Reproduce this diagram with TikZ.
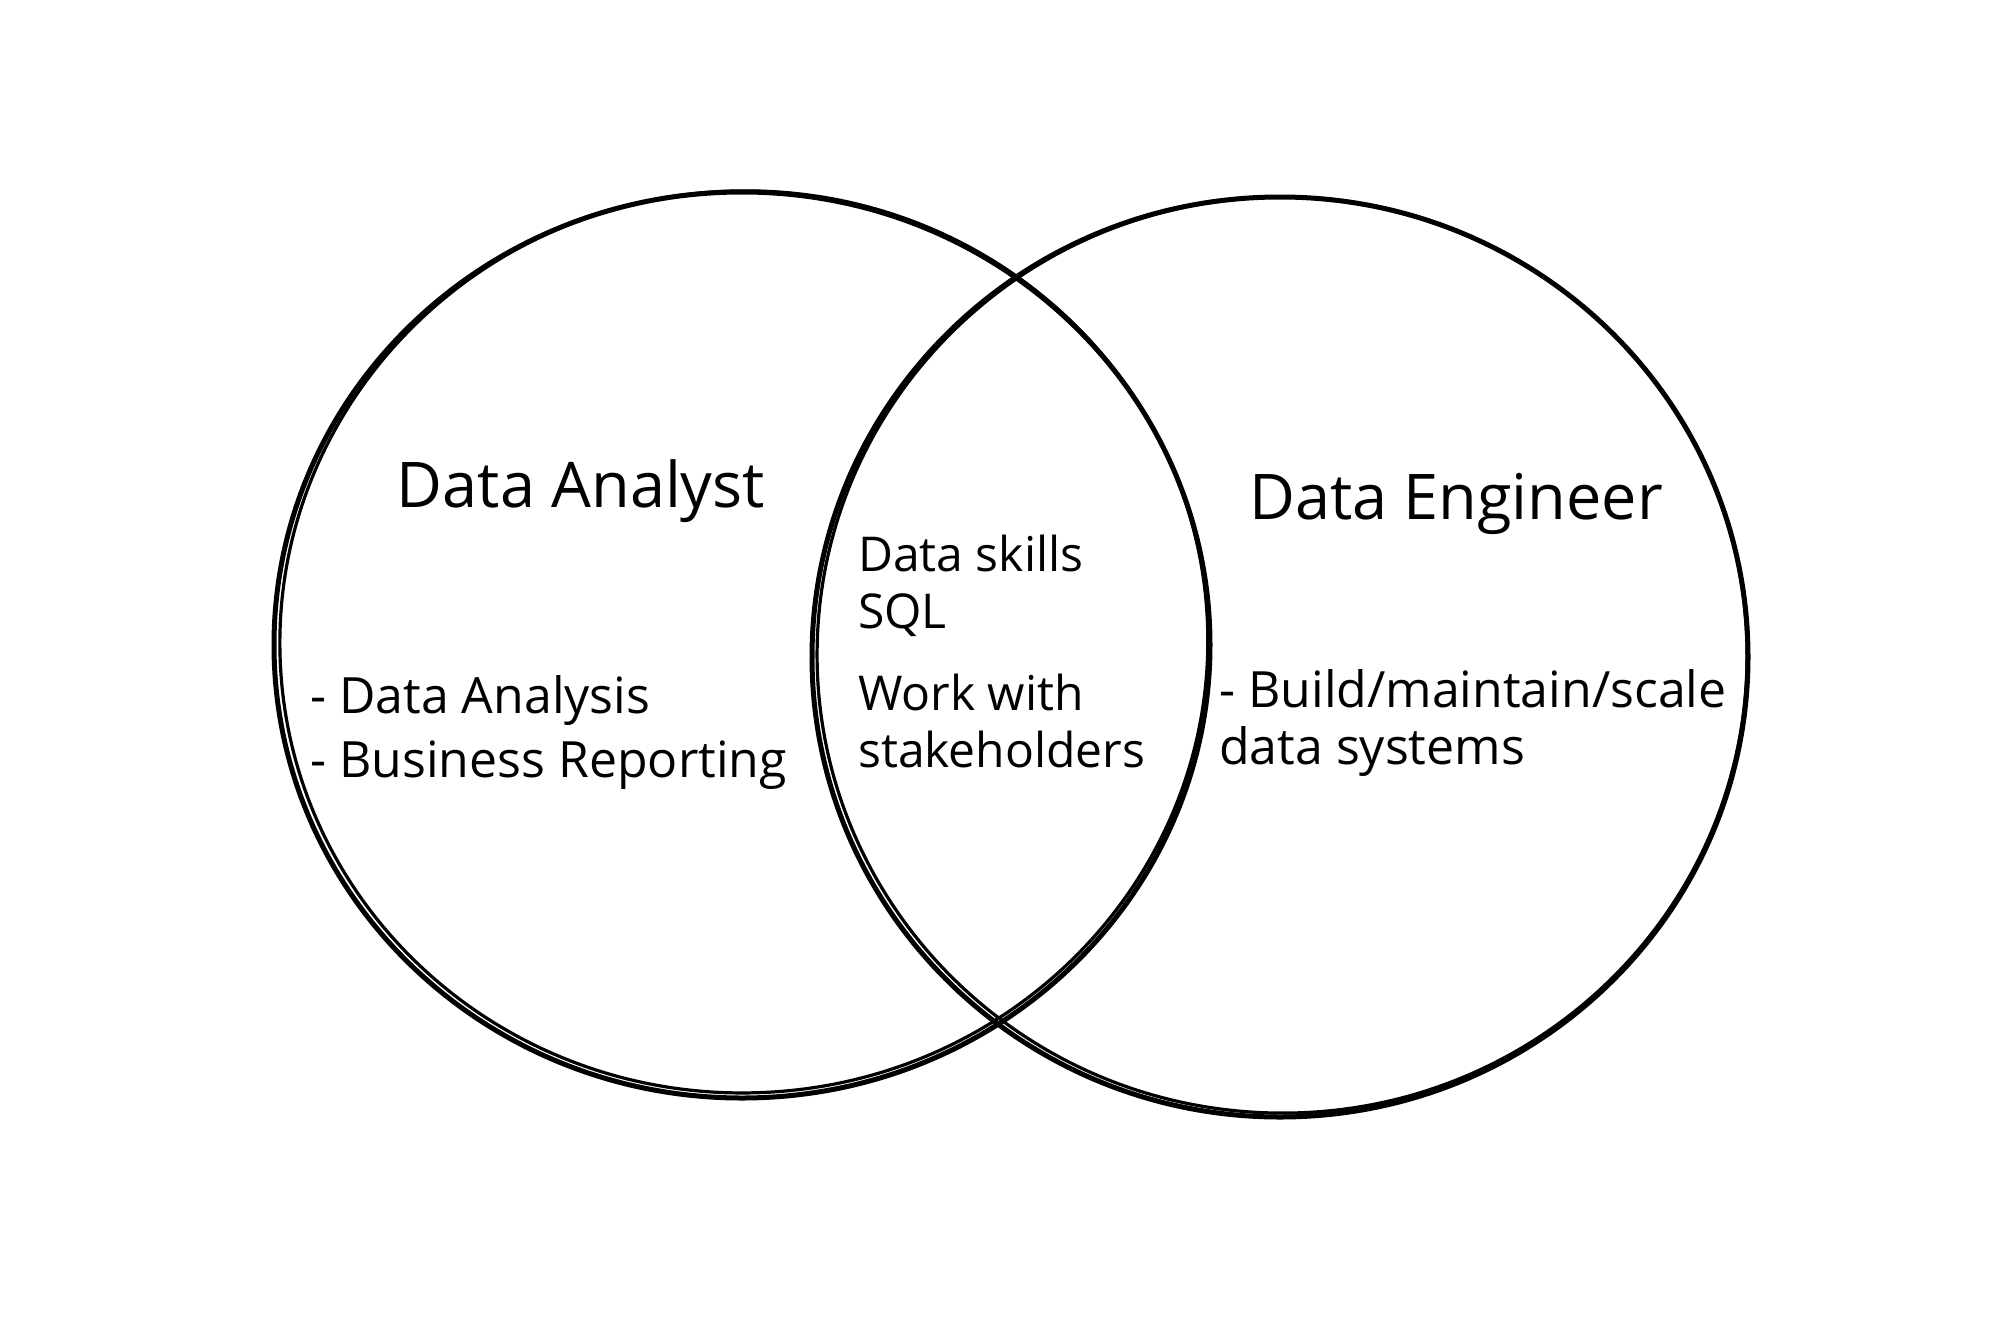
\documentclass[tikz,border=0pt]{standalone}
\usepackage{fontspec}
\setmainfont{Open Sans}
\begin{document}
\begin{tikzpicture}[x=1pt,y=-1pt,
  ring/.style={line width=5pt, draw=black},
  ringthin/.style={line width=3.2pt, draw=black},
  title/.style={anchor=base, font=\fontsize{63}{70}\selectfont},
  body/.style={anchor=base west, font=\fontsize{50}{56}\selectfont, inner sep=0pt},
  midbody/.style={body, font=\fontsize{48}{54}\selectfont}]
\useasboundingbox[fill=white] (0,0) rectangle (1998,1333);
% left circle (sketchy double stroke)
\draw[ring] (742,645) ellipse [x radius=468, y radius=453];
\draw[ringthin, rotate around={3:(742,645)}] (744,642) ellipse [x radius=464, y radius=451];
% right circle
\draw[ring] (1280,657) ellipse [x radius=468, y radius=460];
\draw[ringthin, rotate around={-2:(1280,657)}] (1282,655) ellipse [x radius=465, y radius=458];
% titles
\node[title] (da) at (581,507) {Data Analyst};
\node[title] (de) at (1456,519) {Data Engineer};
% left list
\node[body] (l1) at (310,713) {- Data Analysis};
\node[body] (l2) at (310,777) {- Business Reporting};
% middle
\node[midbody] (m1) at (858,571) {Data skills};
\node[midbody] (m2) at (858,628) {SQL};
\node[midbody] (m3) at (858,710) {Work with};
\node[midbody] (m4) at (858,767) {stakeholders};
% right list
\node[body] (r1) at (1219,707) {- Build/maintain/scale};
\node[body] (r2) at (1219,764) {data systems};
\end{tikzpicture}
\end{document}
